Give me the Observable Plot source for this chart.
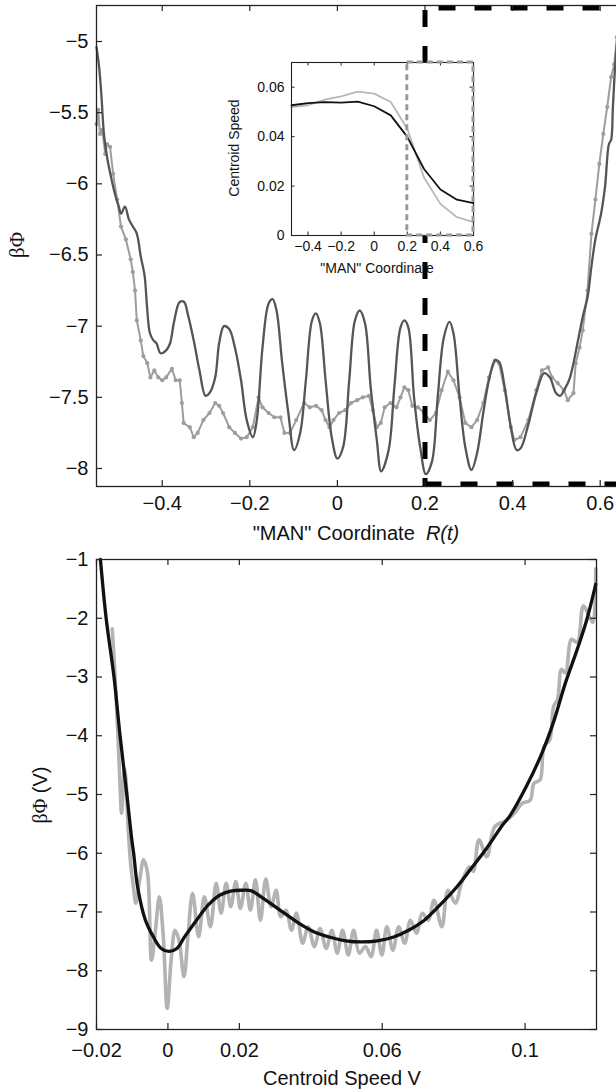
<!DOCTYPE html>
<html><head><meta charset="utf-8">
<script src="https://cdn.jsdelivr.net/npm/d3@7"></script>
<script src="https://cdn.jsdelivr.net/npm/@observablehq/plot@0.6"></script>
<style>
body{margin:0;background:#fff;}
#wrap{position:relative;width:616px;height:1092px;overflow:hidden;background:#fff;font-family:"Liberation Sans",Arial,Helvetica,sans-serif;color:#111;}
.lbl{position:absolute;white-space:nowrap;transform:translate(-50%,-50%);line-height:1;}
.rot{transform:translate(-50%,-50%) rotate(-90deg);}
.serif{font-family:"Liberation Serif","DejaVu Serif",serif;}
</style></head><body><div id="wrap"></div>
<script>
// ---------- Top panel: potential vs "MAN" coordinate ----------
const topXTicks = [-0.4, -0.2, 0, 0.2, 0.4, 0.6];
const topYTicks = [-5, -5.5, -6, -6.5, -7, -7.5, -8];
const topXDomain = [-0.55, 0.692];
const topYDomain = [-8.1265, -4.747];
const boxX = [0.2, 0.75];

const darkX = [-0.550,-0.544,-0.539,-0.533,-0.526,-0.517,-0.508,-0.499,-0.494,-0.485,-0.476,-0.467,-0.458,-0.449,-0.440,-0.435,-0.428,-0.420,-0.413,-0.404,-0.391,-0.382,-0.373,-0.360,-0.350,-0.342,-0.328,-0.315,-0.301,-0.292,-0.279,-0.270,-0.259,-0.247,-0.234,-0.220,-0.207,-0.193,-0.184,-0.171,-0.157,-0.148,-0.139,-0.126,-0.112,-0.099,-0.085,-0.072,-0.058,-0.049,-0.040,-0.027,-0.013,0.000,0.013,0.027,0.040,0.051,0.063,0.076,0.090,0.100,0.117,0.130,0.144,0.153,0.162,0.175,0.189,0.202,0.216,0.229,0.243,0.256,0.265,0.279,0.292,0.306,0.319,0.333,0.346,0.360,0.369,0.382,0.396,0.409,0.418,0.436,0.454,0.472,0.485,0.499,0.508,0.521,0.530,0.539,0.548,0.562,0.571,0.580,0.589,0.602,0.611,0.620,0.625,0.629,0.634,0.640];
const darkY = [-5.04,-5.18,-5.37,-5.65,-5.81,-5.95,-6.07,-6.16,-6.21,-6.16,-6.25,-6.30,-6.35,-6.51,-6.65,-6.85,-7.05,-7.10,-7.12,-7.19,-7.17,-7.12,-6.97,-6.83,-6.83,-6.91,-7.10,-7.31,-7.49,-7.47,-7.36,-7.12,-7.00,-7.02,-7.15,-7.38,-7.66,-7.78,-7.66,-7.15,-6.84,-6.81,-6.89,-7.26,-7.61,-7.87,-7.75,-7.38,-6.96,-6.91,-6.98,-7.38,-7.78,-7.93,-7.85,-7.38,-6.96,-6.89,-6.98,-7.43,-7.80,-8.02,-7.87,-7.43,-7.01,-6.96,-7.01,-7.50,-7.85,-8.04,-7.95,-7.50,-7.08,-6.97,-7.05,-7.50,-7.85,-8.01,-7.89,-7.61,-7.38,-7.24,-7.25,-7.43,-7.71,-7.87,-7.86,-7.69,-7.47,-7.33,-7.36,-7.47,-7.49,-7.43,-7.37,-7.26,-7.12,-6.91,-6.80,-6.58,-6.39,-6.21,-6.02,-5.72,-5.69,-5.46,-5.18,-4.95];

const lightX = [-0.550,-0.546,-0.542,-0.537,-0.530,-0.526,-0.519,-0.512,-0.503,-0.494,-0.483,-0.472,-0.467,-0.462,-0.458,-0.449,-0.443,-0.434,-0.427,-0.418,-0.409,-0.400,-0.391,-0.378,-0.369,-0.360,-0.355,-0.351,-0.337,-0.328,-0.319,-0.306,-0.292,-0.279,-0.270,-0.261,-0.247,-0.234,-0.220,-0.207,-0.193,-0.180,-0.171,-0.157,-0.144,-0.130,-0.121,-0.108,-0.094,-0.076,-0.063,-0.049,-0.036,-0.027,-0.018,-0.009,0.004,0.018,0.031,0.045,0.058,0.072,0.081,0.090,0.099,0.108,0.121,0.135,0.144,0.153,0.162,0.171,0.184,0.198,0.211,0.225,0.238,0.252,0.265,0.279,0.292,0.306,0.319,0.333,0.346,0.360,0.369,0.382,0.396,0.404,0.418,0.436,0.454,0.467,0.481,0.490,0.503,0.517,0.526,0.539,0.544,0.553,0.560,0.571,0.580,0.589,0.598,0.607,0.616,0.625,0.632,0.638];
const lightY = [-5.58,-5.48,-5.65,-5.62,-5.79,-5.72,-5.74,-5.93,-6.11,-6.30,-6.39,-6.53,-6.62,-6.75,-6.96,-7.10,-7.21,-7.26,-7.36,-7.31,-7.36,-7.38,-7.36,-7.30,-7.38,-7.38,-7.54,-7.68,-7.71,-7.78,-7.75,-7.66,-7.61,-7.54,-7.56,-7.61,-7.71,-7.75,-7.79,-7.78,-7.71,-7.50,-7.57,-7.61,-7.64,-7.64,-7.75,-7.75,-7.66,-7.54,-7.57,-7.56,-7.59,-7.66,-7.71,-7.66,-7.61,-7.59,-7.54,-7.52,-7.50,-7.49,-7.59,-7.71,-7.68,-7.57,-7.54,-7.57,-7.50,-7.43,-7.45,-7.56,-7.57,-7.61,-7.66,-7.61,-7.45,-7.32,-7.38,-7.50,-7.68,-7.71,-7.66,-7.54,-7.36,-7.24,-7.26,-7.45,-7.71,-7.80,-7.78,-7.66,-7.45,-7.31,-7.29,-7.36,-7.40,-7.45,-7.52,-7.47,-7.26,-7.15,-7.03,-6.75,-6.35,-6.11,-5.86,-5.65,-5.46,-5.25,-5.16,-4.97];

// ---------- Inset: centroid speed vs "MAN" coordinate ----------
const insetXTicks = [-0.4, -0.2, 0, 0.2, 0.4, 0.6];
const insetYTicks = [0, 0.02, 0.04, 0.06];
const insetXDomain = [-0.5, 0.6];
const insetYDomain = [0, 0.07];
const insetBoxX = [0.2, 0.6];
const insetR = [-0.5,-0.4,-0.3,-0.2,-0.1,0,0.1,0.2,0.3,0.4,0.5,0.6];
const insetBlack = [0.0527,0.0536,0.0540,0.0538,0.0542,0.0523,0.0486,0.0399,0.0270,0.0186,0.0145,0.0131];
const insetGray  = [0.0520,0.0527,0.0550,0.0563,0.0582,0.0574,0.0540,0.0432,0.0236,0.0128,0.0074,0.0054];

// ---------- Bottom panel: potential vs centroid speed ----------
const botXTicks = [-0.02, 0, 0.02, 0.06, 0.1];
const botYTicks = [-1, -2, -3, -4, -5, -6, -7, -8, -9];
const botXDomain = [-0.02, 0.12];
const botYDomain = [-9, -1];
const fitX = [-0.0189,-0.0173,-0.0151,-0.0134,-0.0115,-0.0101,-0.0096,-0.0085,-0.0063,-0.0041,-0.0019,0.0003,0.0025,0.0047,0.0080,0.0113,0.0146,0.0179,0.0207,0.0234,0.0267,0.0300,0.0333,0.0366,0.0410,0.0454,0.0498,0.0542,0.0586,0.0630,0.0674,0.0718,0.0762,0.0805,0.0849,0.0893,0.0937,0.0959,0.1003,0.1047,0.1080,0.1113,0.1146,0.1173,0.1198];
const fitY = [-1.00,-2.00,-3.00,-4.00,-5.00,-5.78,-6.00,-6.57,-7.14,-7.42,-7.62,-7.67,-7.62,-7.42,-7.14,-6.88,-6.71,-6.64,-6.63,-6.64,-6.77,-6.91,-7.05,-7.19,-7.34,-7.43,-7.49,-7.51,-7.49,-7.43,-7.31,-7.14,-6.88,-6.60,-6.26,-5.91,-5.52,-5.35,-4.87,-4.30,-3.76,-3.10,-2.53,-2.02,-1.42];
const rawX = [-0.0156,-0.0148,-0.0140,-0.0133,-0.0130,-0.0126,-0.0122,-0.0118,-0.0112,-0.0104,-0.0096,-0.0090,-0.0079,-0.0068,-0.0057,-0.0046,-0.0035,-0.0024,-0.0013,-0.0002,0.0009,0.0020,0.0031,0.0045,0.0056,0.0069,0.0086,0.0102,0.0119,0.0135,0.0149,0.0163,0.0176,0.0190,0.0203,0.0218,0.0231,0.0245,0.0259,0.0274,0.0289,0.0303,0.0316,0.0331,0.0346,0.0360,0.0377,0.0393,0.0410,0.0426,0.0443,0.0459,0.0474,0.0489,0.0505,0.0520,0.0536,0.0553,0.0569,0.0584,0.0599,0.0613,0.0630,0.0646,0.0663,0.0679,0.0696,0.0712,0.0729,0.0745,0.0767,0.0784,0.0805,0.0822,0.0844,0.0855,0.0871,0.0893,0.0915,0.0948,0.0970,0.0992,0.1014,0.1025,0.1042,0.1053,0.1069,0.1080,0.1091,0.1102,0.1113,0.1130,0.1146,0.1163,0.1179,0.1190,0.1198];
const rawY = [-2.18,-3.00,-4.00,-5.00,-5.32,-5.00,-4.55,-4.70,-5.50,-6.20,-6.60,-6.85,-6.45,-6.11,-6.34,-7.82,-7.31,-6.74,-7.42,-8.64,-7.82,-7.31,-7.48,-8.10,-7.42,-6.68,-7.42,-6.74,-7.25,-6.51,-7.02,-6.51,-6.91,-6.48,-6.94,-6.51,-6.97,-6.45,-7.14,-6.44,-6.91,-6.63,-7.08,-6.97,-7.31,-7.02,-7.53,-7.25,-7.59,-7.28,-7.62,-7.31,-7.70,-7.31,-7.73,-7.31,-7.70,-7.59,-7.76,-7.31,-7.73,-7.25,-7.65,-7.25,-7.53,-7.14,-7.36,-7.02,-7.14,-6.80,-7.25,-6.63,-6.85,-6.51,-6.23,-6.31,-5.77,-6.06,-5.55,-5.44,-5.32,-5.15,-5.10,-4.81,-4.75,-4.18,-4.07,-3.50,-3.38,-2.87,-2.93,-2.36,-2.41,-1.79,-1.96,-2.07,-1.16];

// ---------- helpers ----------
const zip = (xs, ys) => xs.map((x, i) => ({x, y: ys[i]}));
const fmt = d => (d < 0 ? "\u2212" : "") + String(+Math.abs(d).toFixed(3));
const FONT = '"Liberation Sans", Arial, Helvetica, sans-serif';
const wrap = document.getElementById("wrap");
function place(svg, left, top) {
  svg.style.position = "absolute";
  svg.style.left = left + "px";
  svg.style.top = top + "px";
  wrap.appendChild(svg);
}
function inwardTicks(xt, yt, pw, ph, len, sides, stroke, sw) {
  const m = [];
  if (sides.includes("b")) m.push(Plot.ruleX(xt, {insetTop: ph - len, stroke, strokeWidth: sw}));
  if (sides.includes("t")) m.push(Plot.ruleX(xt, {insetBottom: ph - len, stroke, strokeWidth: sw}));
  if (sides.includes("l")) m.push(Plot.ruleY(yt, {insetRight: pw - len, stroke, strokeWidth: sw}));
  if (sides.includes("r")) m.push(Plot.ruleY(yt, {insetLeft: pw - len, stroke, strokeWidth: sw}));
  return m;
}

// ---------- top plot ----------
{
  const W = 640, H = 520, ml = 96, mr = 0, mt = 5, mb = 34;
  const pw = W - ml - mr, ph = H - mt - mb;
  const dark = zip(darkX, darkY), light = zip(lightX, lightY);
  const dash = {stroke: "#000", strokeWidth: 5, strokeDasharray: "17 19"};
  const svg = Plot.plot({
    width: W, height: H, marginLeft: ml, marginRight: mr, marginTop: mt, marginBottom: mb,
    x: {domain: topXDomain}, y: {domain: topYDomain},
    style: {fontSize: "20px", fontFamily: FONT, color: "#111", background: "transparent", maxWidth: "none", overflow: "visible"},
    marks: [
      Plot.line(light, {x: "x", y: "y", stroke: "#9d9d9d", strokeWidth: 2}),
      Plot.dot(light, {x: "x", y: "y", r: 2.1, fill: "#9d9d9d", stroke: null}),
      Plot.line(dark, {x: "x", y: "y", stroke: "#555", strokeWidth: 2.3, curve: "catmull-rom"}),
      Plot.ruleX([boxX[0]], {...dash, strokeDashoffset: 31}),
      Plot.ruleY([{y: topYDomain[1], x1: boxX[0], x2: boxX[1]}], {y: "y", x1: "x1", x2: "x2", dy: 2.5, ...dash, strokeDashoffset: 22}),
      Plot.ruleY([{y: topYDomain[0], x1: boxX[0], x2: boxX[1]}], {y: "y", x1: "x1", x2: "x2", dy: -2.5, ...dash}),
      Plot.frame({stroke: "#222", strokeWidth: 1.3}),
      ...inwardTicks(topXTicks, topYTicks, pw, ph, 6, "btl", "#222", 1.2),
      Plot.axisX(topXTicks, {anchor: "bottom", tickSize: 0, tickPadding: 9, tickFormat: fmt, label: null}),
      Plot.axisY(topYTicks, {anchor: "left", tickSize: 0, tickPadding: 8, tickFormat: fmt, label: null})
    ]
  });
  place(svg, 0, 0);
}

// ---------- inset ----------
{
  const W = 262, H = 230, ml = 71, mr = 9, mt = 12, mb = 45;
  const pw = W - ml - mr, ph = H - mt - mb;
  const black = zip(insetR, insetBlack), gray = zip(insetR, insetGray);
  const svg = Plot.plot({
    width: W, height: H, marginLeft: ml, marginRight: mr, marginTop: mt, marginBottom: mb,
    x: {domain: insetXDomain}, y: {domain: insetYDomain},
    style: {fontSize: "14px", fontFamily: FONT, color: "#111", background: "transparent", maxWidth: "none", overflow: "visible"},
    marks: [
      Plot.frame({fill: "white", stroke: null}),
      Plot.line(gray, {x: "x", y: "y", stroke: "#b8b8b8", strokeWidth: 1.8}),
      Plot.line(black, {x: "x", y: "y", stroke: "#111", strokeWidth: 1.8}),
      Plot.frame({stroke: "#222", strokeWidth: 1.1}),
      ...inwardTicks(insetXTicks, insetYTicks, pw, ph, 3.5, "btlr", "#222", 1),
      Plot.rect([{x1: insetBoxX[0], x2: insetBoxX[1], y1: insetYDomain[0], y2: insetYDomain[1]}],
        {x1: "x1", x2: "x2", y1: "y1", y2: "y2", fill: "none", stroke: "#999", strokeWidth: 3, strokeDasharray: "6 4"}),
      Plot.axisX(insetXTicks, {anchor: "bottom", tickSize: 0, tickPadding: 6, tickFormat: fmt, label: null}),
      Plot.axisY(insetYTicks, {anchor: "left", tickSize: 0, tickPadding: 7, tickFormat: fmt, label: null})
    ]
  });
  place(svg, 220, 50);
}

// ---------- bottom plot ----------
{
  const W = 616, H = 552, ml = 96, mr = 20, mt = 19, mb = 63;
  const pw = W - ml - mr, ph = H - mt - mb;
  const fit = zip(fitX, fitY), raw = zip(rawX, rawY);
  const svg = Plot.plot({
    width: W, height: H, marginLeft: ml, marginRight: mr, marginTop: mt, marginBottom: mb,
    x: {domain: botXDomain}, y: {domain: botYDomain},
    style: {fontSize: "20px", fontFamily: FONT, color: "#111", background: "transparent", maxWidth: "none", overflow: "visible"},
    marks: [
      Plot.line(raw, {x: "x", y: "y", stroke: "#b3b3b3", strokeWidth: 3.6, curve: "catmull-rom"}),
      Plot.line(fit, {x: "x", y: "y", stroke: "#111", strokeWidth: 3.3, curve: "catmull-rom"}),
      Plot.frame({stroke: "#222", strokeWidth: 1.3}),
      ...inwardTicks(botXTicks, botYTicks, pw, ph, 6, "btlr", "#222", 1.2),
      Plot.axisX(botXTicks, {anchor: "bottom", tickSize: 0, tickPadding: 13, tickFormat: fmt, label: null}),
      Plot.axisY(botYTicks, {anchor: "left", tickSize: 0, tickPadding: 8, tickFormat: fmt, label: null})
    ]
  });
  place(svg, 0, 540);
}

// ---------- text labels ----------
function label(html, x, y, size, cls) {
  const d = document.createElement("div");
  d.className = "lbl" + (cls ? " " + cls : "");
  d.style.left = x + "px";
  d.style.top = y + "px";
  d.style.fontSize = size + "px";
  d.innerHTML = html;
  wrap.appendChild(d);
}
label('"MAN" Coordinate&nbsp;&nbsp;<i>R(t)</i>', 356, 533, 20);
label('<span class="serif">βΦ</span>', 17, 245, 21, "rot");
label('Centroid Speed', 234, 148, 14, "rot");
label('"MAN" Coordinate', 377, 268, 14);
label('<span class="serif">βΦ</span> (V)', 40, 795, 20, "rot");
label('Centroid Speed V', 342, 1078, 20);
</script>
</body></html>
